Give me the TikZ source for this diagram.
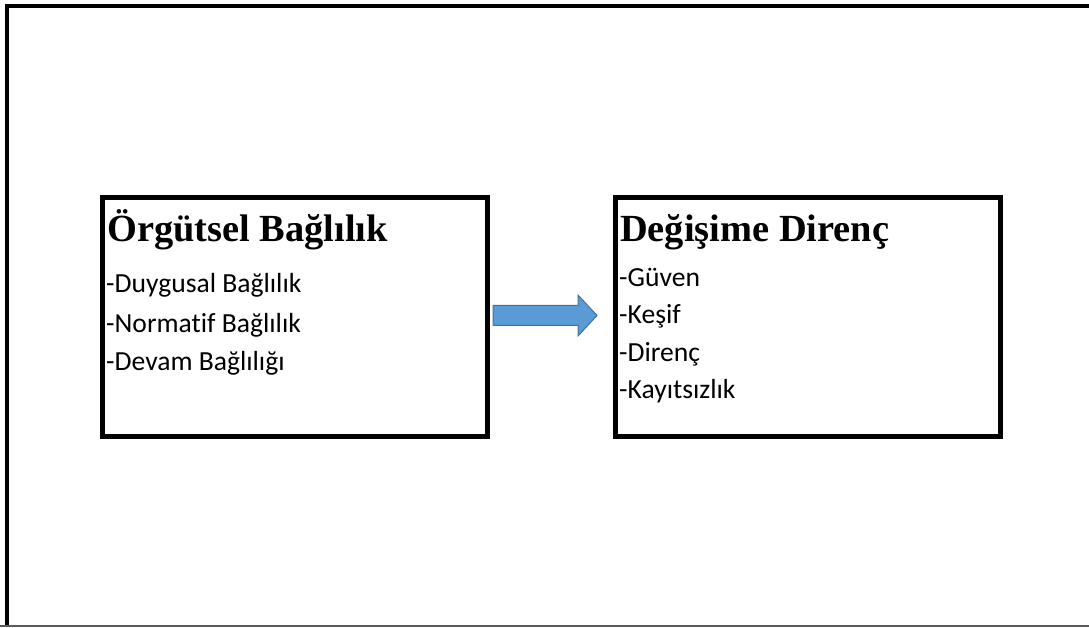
\documentclass[tikz,border=0pt]{standalone}
\usepackage{fontspec}
\setmainfont{Liberation Serif}
\newfontfamily\itemfont[Ligatures=NoCommon]{Carlito}
\definecolor{arrowfill}{RGB}{91,155,213}
\definecolor{arrowline}{RGB}{65,113,156}
\begin{document}
\begin{tikzpicture}[x=1pt, y=1pt]
	\tikzstyle{Box} = [rectangle, minimum width=385pt, minimum height=238pt, line width=5pt, draw=black, fill=white, outer sep=0pt]
	\tikzstyle{Title} = [anchor=base west, inner sep=0pt, font=\fontsize{38.4}{46}\selectfont\bfseries]
	\tikzstyle{Item} = [anchor=base west, inner sep=0pt, font=\itemfont\fontsize{27.6}{32}\selectfont]
	\tikzstyle{bigarrow} = [fill=arrowfill, draw=arrowline, line width=1pt, line join=miter]
	
	\useasboundingbox (0, 0) rectangle (1089, 627);
	\clip (0, 0) rectangle (1089, 627);
	
	\draw [line width=4pt, black] (7, 1) -- (7, 620.5) -- (1100, 620.5);
	\draw [line width=2pt, black!65] (0, 1) -- (1100, 1);
	
	\node (lbox) [Box] at (294.5, 310) {};
	\node (ltitle) [Title] at ([shift={(5,-44)}]lbox.north west) {Örgütsel Bağlılık};
	\node (l1) [Item] at ([shift={(4,-95)}]lbox.north west) {-Duygusal Bağlılık};
	\node (l2) [Item] at ([shift={(4,-135)}]lbox.north west) {-Normatif Bağlılık};
	\node (l3) [Item] at ([shift={(4,-173)}]lbox.north west) {-Devam Bağlılığı};
	
	\node (rbox) [Box] at (807.5, 310) {};
	\node (rtitle) [Title] at ([shift={(5,-44)}]rbox.north west) {Değişime Direnç};
	\node (r1) [Item] at ([shift={(4,-89)}]rbox.north west) {-Güven};
	\node (r2) [Item] at ([shift={(4,-126)}]rbox.north west) {-Keşif};
	\node (r3) [Item] at ([shift={(4,-164)}]rbox.north west) {-Direnç};
	\node (r4) [Item] at ([shift={(4,-200)}]rbox.north west) {-Kayıtsızlık};
	
	\draw [bigarrow] ([shift={(6,11.5)}]lbox.east) -- ([shift={(-37,11.5)}]rbox.west) -- ([shift={(-37,22)}]rbox.west)
		-- ([shift={(-18,1.5)}]rbox.west) -- ([shift={(-37,-19)}]rbox.west) -- ([shift={(-37,-8.5)}]rbox.west)
		-- ([shift={(6,-8.5)}]lbox.east) -- cycle;
\end{tikzpicture}
\end{document}
